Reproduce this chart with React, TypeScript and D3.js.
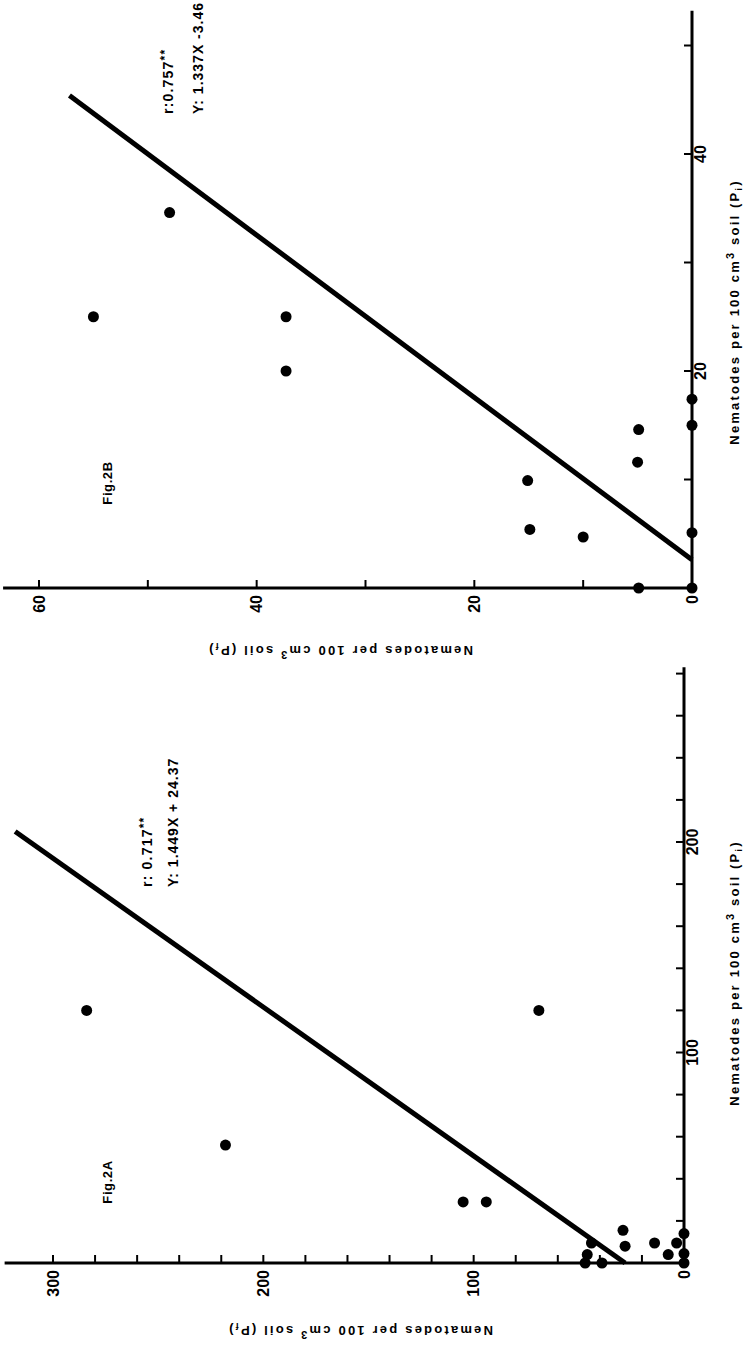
import React from "react";
import * as d3 from "d3";

// ---------- Fig. 2A data (Pi = initial, Pf = final nematodes per 100 cm3 soil)
const piA = [0, 4.5, 14, 4, 9.5, 9.5, 15.5, 8, 9.5, 4, 0, 0, 29, 29, 120, 56, 120];
const pfA = [0, 0, 0, 7.5, 3.5, 14, 29, 28, 44, 46, 47, 39, 105, 94, 284, 218, 69];
const pfTicksA = [20, 40, 60, 80, 100, 120, 140, 160, 180, 200, 220, 240, 260, 280, 300];
const pfLabelsA = [0, 100, 200, 300];
const piTicksA = [20, 40, 60, 80, 100, 120, 140, 160, 180, 200, 220, 240, 260, 280];
const piLabelsA = [100, 200];
const lineAPi = [0, 205];
const lineAPf = [28, 318];
const statsA = ["r: 0.717", "Y: 1.449X + 24.37"];

// ---------- Fig. 2B data
const piB = [0, 0, 5.1, 15, 17.4, 14.6, 11.6, 9.9, 5.4, 4.7, 25, 34.6, 25, 20];
const pfB = [0, 4.9, 0, 0, 0, 4.9, 5.0, 15.1, 14.9, 10.0, 55, 48, 37.3, 37.3];
const pfTicksB = [10, 20, 30, 40, 50, 60];
const pfLabelsB = [0, 20, 40, 60];
const piTicksB = [10, 20, 30, 40, 50];
const piLabelsB = [20, 40];
const lineBPi = [2.6, 45.4];
const lineBPf = [0, 57.2];
const statsB = ["r:0.757", "Y: 1.337X -3.46"];

const FONT = "'Liberation Sans', Arial, sans-serif";

type PanelProps = {
  pi: number[]; pf: number[];
  pfTicks: number[]; pfLabels: number[]; piTicks: number[]; piLabels: number[];
  linePi: number[]; linePf: number[]; stats: string[]; fig: string;
  x: d3.ScaleLinear<number, number>; y: d3.ScaleLinear<number, number>;
  pfMax: number; piMax: number;
  piTitleY: number; pfTitleX: number; pfTitleY: number;
  statsX: number[]; statsY: number; figX: number; figY: number;
};

function AxisTitle({ tx, ty, rot, sub }: { tx: number; ty: number; rot: number; sub: string }) {
  return (
    <text transform={`translate(${tx},${ty}) rotate(${rot})`} textAnchor="middle"
      fontFamily={FONT} fontWeight="bold" fontSize={13} letterSpacing={2.2} fill="#000">
      Nematodes per 100 cm
      <tspan dy={-5} fontSize={11}>3</tspan>
      <tspan dy={5}> soil (P</tspan>
      <tspan dy={3} fontSize={9}>{sub}</tspan>
      <tspan dy={-3}>)</tspan>
    </text>
  );
}

function Panel(p: PanelProps) {
  const { x, y } = p;
  const x0 = x(0), y0 = y(0);
  const tick = 8;
  return (
    <g>
      {/* Pf axis (horizontal) */}
      <line x1={x0 + 1.5} x2={x(p.pfMax)} y1={y0} y2={y0} stroke="#000" strokeWidth={3} />
      {/* Pi axis (vertical) */}
      <line x1={x0} x2={x0} y1={y0 + 1.5} y2={y(p.piMax)} stroke="#000" strokeWidth={3} />
      {p.pfTicks.map((t) => (
        <line key={"pft" + t} x1={x(t)} x2={x(t)} y1={y0} y2={y0 - tick} stroke="#000" strokeWidth={2} />
      ))}
      {p.piTicks.map((t) => (
        <line key={"pit" + t} x1={x0} x2={x0 - tick} y1={y(t)} y2={y(t)} stroke="#000" strokeWidth={2} />
      ))}
      {p.pfLabels.map((t) => (
        <text key={"pfl" + t} transform={`translate(${x(t)},${y0 + 7}) rotate(-90)`} textAnchor="end"
          dy="0.35em" fontFamily={FONT} fontWeight="bold" fontSize={16} fill="#000">{t}</text>
      ))}
      {p.piLabels.map((t) => (
        <text key={"pil" + t} transform={`translate(${x0 + 14},${y(t)}) rotate(-90)`} textAnchor="middle"
          fontFamily={FONT} fontWeight="bold" fontSize={16} fill="#000">{t}</text>
      ))}
      <AxisTitle tx={739} ty={p.piTitleY} rot={-90} sub="i" />
      <AxisTitle tx={p.pfTitleX} ty={p.pfTitleY} rot={180} sub="f" />
      {/* regression line */}
      <line x1={x(p.linePf[0])} y1={y(p.linePi[0])} x2={x(p.linePf[1])} y2={y(p.linePi[1])}
        stroke="#000" strokeWidth={5} />
      {/* points */}
      {p.pi.map((v, i) => (
        <circle key={"pt" + i} cx={x(p.pf[i])} cy={y(v)} r={5.5} fill="#000" />
      ))}
      {/* statistics */}
      <text transform={`translate(${p.statsX[0]},${p.statsY}) rotate(-90)`} fontFamily={FONT}
        fontWeight="bold" fontSize={14} letterSpacing={1.2} fill="#000">
        {p.stats[0]}<tspan dy={-4} fontSize={12}>**</tspan>
      </text>
      <text transform={`translate(${p.statsX[1]},${p.statsY}) rotate(-90)`} fontFamily={FONT}
        fontWeight="bold" fontSize={14} letterSpacing={1.0} fill="#000">
        {p.stats[1]}
      </text>
      <text transform={`translate(${p.figX},${p.figY}) rotate(-90)`} textAnchor="middle" fontFamily={FONT}
        fontWeight="bold" fontSize={13} letterSpacing={0.6} fill="#000">{p.fig}</text>
    </g>
  );
}

export default function App() {
  const xA = d3.scaleLinear().domain([0, 300]).range([684, 53]);
  const yA = d3.scaleLinear().domain([0, 200]).range([1263, 842]);
  const xB = d3.scaleLinear().domain([0, 60]).range([692, 39]);
  const yB = d3.scaleLinear().domain([0, 40]).range([588, 154]);
  return (
    <svg width={751} height={1347} viewBox="0 0 751 1347"
      style={{ position: "absolute", left: 0, top: 0, background: "#fff" }}>
      <rect width={751} height={1347} fill="#fff" />
      <Panel pi={piB} pf={pfB} pfTicks={pfTicksB} pfLabels={pfLabelsB} piTicks={piTicksB} piLabels={piLabelsB}
        linePi={lineBPi} linePf={lineBPf} stats={statsB} fig="Fig.2B" x={xB} y={yB}
        pfMax={63.3} piMax={53.2} piTitleY={312} pfTitleX={340} pfTitleY={646}
        statsX={[173, 203]} statsY={114} figX={112} figY={483} />
      <Panel pi={piA} pf={pfA} pfTicks={pfTicksA} pfLabels={pfLabelsA} piTicks={piTicksA} piLabels={piLabelsA}
        linePi={lineAPi} linePf={lineAPf} stats={statsA} fig="Fig.2A" x={xA} y={yA}
        pfMax={323} piMax={283} piTitleY={973} pfTitleX={360} pfTitleY={1326}
        statsX={[152, 178]} statsY={887} figX={112} figY={1182} />
    </svg>
  );
}
